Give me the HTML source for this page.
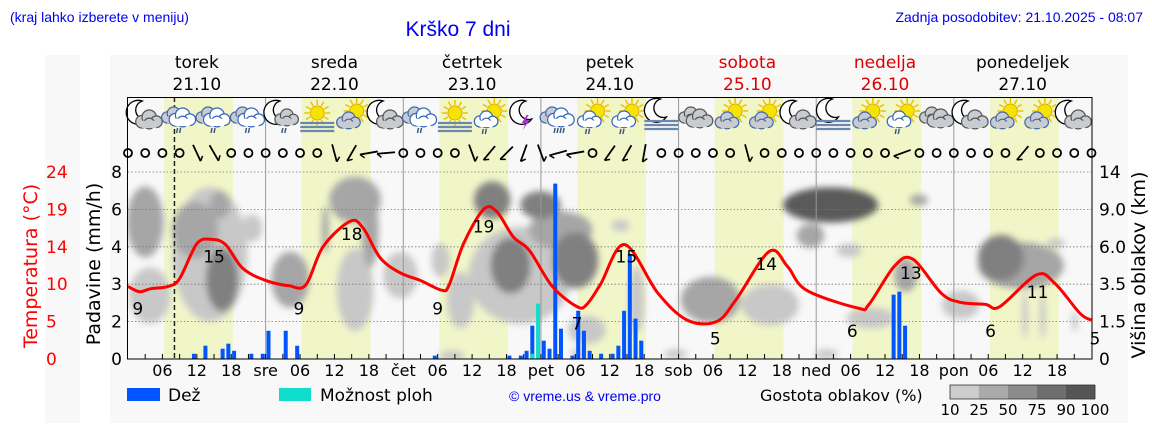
<!DOCTYPE html>
<html><head><meta charset="utf-8"><style>
body{margin:0;background:#fff;}
svg{display:block;}
.dj{font-family:"DejaVu Sans","Liberation Sans",sans-serif;}
.lb{font-family:"Liberation Sans",sans-serif;}
</style></head><body>
<svg id="chart" width="1152" height="443" viewBox="0 0 1152 443" xmlns="http://www.w3.org/2000/svg">
<defs><filter id="blur" x="-50%" y="-50%" width="200%" height="200%"><feGaussianBlur stdDeviation="3.5"/></filter>
<clipPath id="plotclip"><rect x="128" y="97" width="964" height="262"/></clipPath></defs>
<rect x="45" y="55" width="35" height="368" fill="#f8f8f8"/>
<rect x="110" y="55" width="1018" height="368" fill="#f8f8f8"/>
<text x="10" y="22" class="lb" font-size="14" fill="#0000ee">(kraj lahko izberete v meniju)</text>
<text x="458" y="36" class="lb" font-size="21" fill="#0000ee" text-anchor="middle">Krško 7 dni</text>
<text x="1143" y="22" class="lb" font-size="14" fill="#0000ee" text-anchor="end">Zadnja posodobitev: 21.10.2025 - 08:07</text>
<g id="bands"></g><g id="clouds" clip-path="url(#plotclip)" filter="url(#blur)"></g><g id="grid"></g><g id="bars"></g><g id="temp"></g><g id="icons"></g><g id="wind"></g><g id="axes"></g>
<text transform="translate(37,266) rotate(-90)" class="dj" font-size="19" fill="#ff0000" text-anchor="middle">Temperatura (°C)</text>
<text transform="translate(100,264) rotate(-90)" class="dj" font-size="19" fill="#000" text-anchor="middle">Padavine (mm/h)</text>
<text transform="translate(1145,265) rotate(-90)" class="dj" font-size="19" fill="#000" text-anchor="middle">Višina oblakov (km)</text>
<rect x="127" y="388" width="33" height="13" fill="#0055ff"/>
<text x="168" y="401" class="dj" font-size="17">Dež</text>
<rect x="279" y="388" width="32" height="13" fill="#11ddcc"/>
<text x="320" y="401" class="dj" font-size="17">Možnost ploh</text>
<text x="585" y="401" class="lb" font-size="14" fill="#0000ee" text-anchor="middle">© vreme.us &amp; vreme.pro</text>
<text x="760" y="401" class="dj" font-size="16">Gostota oblakov (%)</text>
<g id="scale"></g>
</svg>
<script>
const NS="http://www.w3.org/2000/svg";
const tempTicks=[0,5,10,14,19,24];
const rainTicks=[0,2,3,4,6,8];
const cloudTicks=["0","1.5","3.5","6.0","9.0","14"];
const cloudTickVals=[0,1.5,3.5,6,9,14];
const dayNames=["torek","sreda","četrtek","petek","sobota","nedelja","ponedeljek"];
const dayDates=["21.10","22.10","23.10","24.10","25.10","26.10","27.10"];
const dayAbbr=["","sre","čet","pet","sob","ned","pon"];
const tempHours=[0,2,4,7,9,12,14.5,17,20,24,28,31,34,38.7,41,44,47.5,51,54.7,56,58.5,62,64.3,67.2,70,74,78.3,80,82.4,86.6,92.4,97.5,102.6,106,111.8,115,118.3,127.3,129.2,133.6,136.8,141.8,145,149.5,152,158.4,161.6,166,168];
const tempValues=[9.7,9.0,9.4,9.7,10.6,14.4,15.0,14.3,11.7,10.4,9.8,9.9,14,17.4,16.5,12.8,11.2,10.4,9.2,9.9,14.4,19,18.7,15.3,13.6,9.7,7,7.3,10,14.3,8.8,5.2,5,7.9,13.5,11.9,9.2,6.8,7.3,11.9,12.7,8.8,7.6,7.3,7,11,10.1,6.1,5.2];
const labelHours=[1.7,15,29.8,39,54,62,78.3,86.9,102.4,111.3,126.3,136.5,150.4,158.6,168.6];
const labelValues=[9,15,9,18,9,19,7,15,5,14,6,13,6,11,5];
const rainHours=[11,13,16,17,18,21,23,24,27,29,53,66,68,69,70,71,72,73,74,75,77,78,79,80,82,84,85,86,87,88,89,133,134,135];
const rainValues=[0.28,0.71,0.55,0.82,0.44,0.28,0.28,1.51,1.51,0.71,0.18,0.18,0.18,0.44,1.78,0,0.98,0.55,7.38,1.62,0.18,2.29,1.51,0.44,0.28,0.28,0.71,2.29,3.81,2.08,0.98,2.72,2.8,1.78];
const showerValues=[0,0,0,0,0,0,0,0,0,0,0,0,0,0,0.28,2.48,0,0,0,0,0,0,0,0,0,0,0,0,0,0,0,0,0,0];
// cloud blobs: hour, km, half-width (hours), half-height (axis levels), density %
const cloudHour=[3.8,14.3,28.3,39.6,47.5,54.5,56.5,68.4,85.9,88.7,112,125.7,129.5,145.2,161.8,156.4,159.5,165.1,78.5,95.5,121.8,80,58,21.6,3.0,11.7,16,34.4,42.2,101.6,119,137.9,135.6,155.7,75.4,16.4,39.6,63.5,66.7,71.9,78,152.2,122.5];
const cloudKm=[2.9,5.5,3.8,3.2,4.1,5.1,0.12,4.1,7.7,2.66,2.4,5.75,1.7,2.4,6.3,1.85,1.85,1.5,0.2,0.2,0.2,1.16,2.66,7.5,8.0,7.35,9.6,7.35,7.35,2.66,6.9,10.25,4.1,4.75,7.35,3.8,10.25,10.25,4.75,9.6,5.1,5.25,9.6];
const cloudHalfH=[3.6,6.5,3.3,3.2,3,1.6,2.2,9,1.6,1.3,5,2.2,4.2,3.3,1.6,0.5,0.5,0.5,1.3,2,2,3.3,2.4,1.8,3.2,4,1.8,0.6,1.5,5.2,2.4,1.6,2,7.5,5.6,2.8,4.5,3.2,3.5,3.5,4,4,8.3];
const cloudHalfL=[0.75,1.8,0.75,1.1,0.62,0.45,0.14,1.3,0.15,0.9,0.55,0.18,0.28,0.38,0.13,0.65,0.65,0.28,0.13,0.13,0.13,0.38,0.75,0.37,0.95,0.75,0.37,0.65,1.0,0.62,0.32,0.15,0.45,0.62,0.5,0.85,0.62,0.5,0.75,0.37,0.75,0.62,0.47];
const cloudDensity=[25,25,50,25,25,25,25,25,25,25,25,25,25,25,25,25,25,25,25,25,25,25,25,25,50,50,50,50,50,50,50,50,50,50,50,75,50,75,75,75,75,75,90];
const iconTypes=["mc","r","r","r","mcr","sf","sc","mc","r","sf","scr","mt","hr","scr","scr","mf","c","sc","sc","mc","mf","sc","scr","c","mc","sc","sc","mc"];
const windHours=[0,3,6,9,12,15,18,21,24,27,30,33,36,39,42,45,48,51,54,57,60,63,66,69,72,75,78,81,84,87,90,93,96,99,102,105,108,111,114,117,120,123,126,129,132,135,138,141,144,147,150,153,156,159,162,165,168];
const windAngles=[0,0,0,0,-25,-30,0,0,0,0,0,0,-15,30,80,85,0,0,0,0,-20,40,45,20,-20,75,80,0,35,30,10,0,0,0,0,0,-15,0,0,0,0,0,0,0,0,70,0,0,0,0,0,0,40,0,0,0,0];

const X0=128,PX=5.735,YB=359,LV=37.4;
const xH=h=>X0+h*PX;
function lvl(v,t){for(let i=0;i<t.length-1;i++){if(v<=t[i+1])return i+(v-t[i])/(t[i+1]-t[i]);}return t.length-1;}
const yT=v=>YB-lvl(v,tempTicks)*LV, yR=v=>YB-lvl(v,rainTicks)*LV, yC=v=>YB-lvl(v,cloudTickVals)*LV;
function mk(tag,attrs,parent,txt){const e=document.createElementNS(NS,tag);for(const k in attrs)e.setAttribute(k,attrs[k]);if(txt!==undefined)e.textContent=txt;parent.appendChild(e);return e;}
const $=id=>document.getElementById(id);

for(let d=0;d<7;d++){const r=mk("rect",{x:xH(d*24+6.3),y:97,width:12*PX,height:262,fill:"#f1f6c9"},$("bands"));

}
const shade={25:"#c8c8c8",50:"#a6a6a6",75:"#808080",90:"#5a5a5a"};
for(let i=0;i<cloudHour.length;i++){const cy=yC(cloudKm[i]);
const e=mk("ellipse",{cx:xH(cloudHour[i]),cy:cy,rx:cloudHalfH[i]*PX,ry:cloudHalfL[i]*LV,fill:shade[cloudDensity[i]]},$("clouds"));

}
const g=$("grid");
for(let i=1;i<=5;i++){const l=mk("line",{x1:128,x2:1092,y1:YB-i*LV,y2:YB-i*LV,stroke:"#777","stroke-width":0.8,"stroke-dasharray":"1.5,2"},g);

}
for(let d=1;d<7;d++){const l=mk("line",{x1:xH(d*24),x2:xH(d*24),y1:97,y2:359,stroke:"#999","stroke-width":1},g);

}
const nowL=mk("line",{x1:xH(8.1),x2:xH(8.1),y1:97,y2:359,stroke:"#222","stroke-width":1.5,"stroke-dasharray":"5,3"},g);


for(let i=0;i<rainHours.length;i++){const x=xH(rainHours[i]+0.5)-2;const tot=rainValues[i];const s=showerValues[i];
const top=Math.max(tot,s);
if(tot>0){const b=mk("rect",{x:x,y:yR(top),width:4,height:YB-yR(top),fill:"#0055ff"},$("bars"));

}
if(s>0){const c=mk("rect",{x:x,y:yR(s),width:4,height:YB-yR(s),fill:"#11ddcc"},$("bars"));

}}
const pts=tempHours.map((h,i)=>[xH(h),yT(tempValues[i])]);
let dpath="M"+pts[0][0]+","+pts[0][1];
for(let i=0;i<pts.length-1;i++){const p0=pts[Math.max(0,i-1)],p1=pts[i],p2=pts[i+1],p3=pts[Math.min(pts.length-1,i+2)];
dpath+=` C${p1[0]+(p2[0]-p0[0])/6},${p1[1]+(p2[1]-p0[1])/6} ${p2[0]-(p3[0]-p1[0])/6},${p2[1]-(p3[1]-p1[1])/6} ${p2[0]},${p2[1]}`;}
const tl=mk("path",{d:dpath,fill:"none",stroke:"#ff0000","stroke-width":3,"stroke-linejoin":"round"},$("temp"));


for(let i=0;i<labelHours.length;i++){const t=mk("text",{x:xH(labelHours[i]),y:yT(labelValues[i])+23,"text-anchor":"middle","font-size":17,class:"dj"},$("temp"),String(labelValues[i]));

}
const A=$("axes");
mk("rect",{x:127.5,y:97.5,width:964.5,height:261.5,fill:"none",stroke:"#000","stroke-width":1},A);
for(let h=3;h<168;h+=3){mk("line",{x1:xH(h),x2:xH(h),y1:359,y2:354,stroke:"#000","stroke-width":1},A);}
for(let d=0;d<7;d++){
for(const hh of [6,12,18]){const t=mk("text",{x:xH(d*24+hh),y:376,"text-anchor":"middle","font-size":16,class:"dj"},A,hh<10?"0"+hh:String(hh));

}
if(d>0){const t=mk("text",{x:xH(d*24),y:376,"text-anchor":"middle","font-size":16,class:"dj"},A,dayAbbr[d]);

}
const col=(d===4||d===5)?"#dd0000":"#000";
const n=mk("text",{x:xH(d*24+12),y:68,"text-anchor":"middle","font-size":17,fill:col,class:"dj"},A,dayNames[d]);


const dt=mk("text",{x:xH(d*24+12),y:90,"text-anchor":"middle","font-size":17,fill:col,class:"dj"},A,dayDates[d]);

}
for(let i=0;i<6;i++){const y=YB-i*LV+6;
const a=mk("text",{x:46,y:y,"font-size":17,fill:"#ff0000",class:"dj"},A,String(tempTicks[i]));


const b=mk("text",{x:122,y:y,"text-anchor":"end","font-size":17,class:"dj"},A,String(rainTicks[i]));


const c=mk("text",{x:1099,y:y,"font-size":17,class:"dj"},A,cloudTicks[i]);

}
const W=$("wind");
for(let i=0;i<windHours.length;i++){const x=xH(windHours[i]),y=153,a=windAngles[i];
if(a===0){const c=mk("circle",{cx:x,cy:y,r:4,fill:"none",stroke:"#000","stroke-width":1.8},W);

}
else{const gg=mk("g",{transform:`translate(${x},${y}) rotate(${a})`},W);


mk("line",{x1:0,y1:-9,x2:0,y2:9,stroke:"#000","stroke-width":1.8},gg);
mk("line",{x1:0,y1:9,x2:4,y2:5,stroke:"#000","stroke-width":1.5},gg);}}
const I=$("icons");
function cloud(p,cx,cy,fill,stroke,s){for(const c of [[-8,3,7],[0,-2,8],[8,3,6.5],[0,5,6]])mk("circle",{cx:cx+c[0]*s,cy:cy+c[1]*s,r:c[2]*s,fill:fill,stroke:stroke,"stroke-width":1.2},p);
mk("rect",{x:cx-8*s,y:cy+2*s,width:16*s,height:8*s,fill:fill},p);}
function sun(p,cx,cy){for(let k=0;k<12;k++){const an=k*Math.PI/6;mk("line",{x1:cx+8*Math.cos(an),y1:cy+8*Math.sin(an),x2:cx+13*Math.cos(an),y2:cy+13*Math.sin(an),stroke:"#e8c400","stroke-width":1.5},p);}
mk("circle",{cx:cx,cy:cy,r:7,fill:"#f5e400",stroke:"#e8a800","stroke-width":1},p);}
function moon(p,cx,cy){mk("path",{d:`M${cx+2},${cy-12} A12,12 0 1,0 ${cx+8},${cy+6} A9,9 0 1,1 ${cx+2},${cy-12}Z`,fill:"#fff",stroke:"#000","stroke-width":1.3},p);}
function drops(p,cx,cy,n){for(let k=0;k<n;k++)mk("line",{x1:cx-3+k*3,y1:cy,x2:cx-4+k*3,y2:cy+5,stroke:"#445588","stroke-width":1.5},p);}
function fog(p,cx,cy){for(let k=0;k<3;k++)mk("line",{x1:cx-17,y1:cy+k*4,x2:cx+17,y2:cy+k*4,stroke:"#6a88aa","stroke-width":2.2},p);}
for(let i=0;i<iconTypes.length;i++){const cx=xH(i*6+3),cy=115,t=iconTypes[i];
const p=mk("g",{},I);


if(t==="mc"){moon(p,cx-5,cy-2);cloud(p,cx+4,cy+4,"#c8ccd0","#555",0.9);}
else if(t==="mcr"){moon(p,cx-5,cy-2);cloud(p,cx+4,cy+2,"#c8ccd0","#555",0.8);drops(p,cx+3,cy+13,2);}
else if(t==="r"){cloud(p,cx-6,cy,"#c8ccd0","#4466aa",0.8);cloud(p,cx+3,cy+2,"#fff","#3366bb",0.9);drops(p,cx+1,cy+13,2);}
else if(t==="hr"){cloud(p,cx-6,cy,"#c8ccd0","#4466aa",0.8);cloud(p,cx+3,cy+2,"#fff","#3366bb",0.9);drops(p,cx,cy+13,4);}
else if(t==="sf"){sun(p,cx,cy-2);fog(p,cx,cy+8);}
else if(t==="sc"){sun(p,cx+5,cy-4);cloud(p,cx-3,cy+5,"#c8ccd0","#4466aa",0.8);}
else if(t==="scr"){sun(p,cx+5,cy-4);cloud(p,cx-3,cy+4,"#fff","#3366bb",0.8);drops(p,cx-3,cy+14,2);}
else if(t==="mt"){moon(p,cx,cy-2);mk("path",{d:`M${cx+3},${cy} l-5,8 h4 l-3,7 l7,-10 h-4 l3,-5z`,fill:"#aa33cc"},p);}
else if(t==="mf"){moon(p,cx-3,cy-4);fog(p,cx,cy+6);}
else if(t==="c"){cloud(p,cx-5,cy,"#c8ccd0","#555",0.8);cloud(p,cx+4,cy+3,"#c8ccd0","#555",0.9);}}
const scaleCols=["#cccccc","#aaaaaa","#8c8c8c","#6e6e6e","#555555"];
const scaleLabels=["10","25","50","75","90","100"];
for(let i=0;i<5;i++){const r=mk("rect",{x:950+i*29,y:385,width:29,height:14,fill:scaleCols[i]},$("scale"));

}
mk("rect",{x:950,y:385,width:145,height:14,fill:"none",stroke:"#333","stroke-width":0.8},$("scale"));
for(let i=0;i<6;i++){const t=mk("text",{x:950+i*29,y:415,"text-anchor":"middle","font-size":15,class:"dj"},$("scale"),scaleLabels[i]);

}
</script>
</body></html>
